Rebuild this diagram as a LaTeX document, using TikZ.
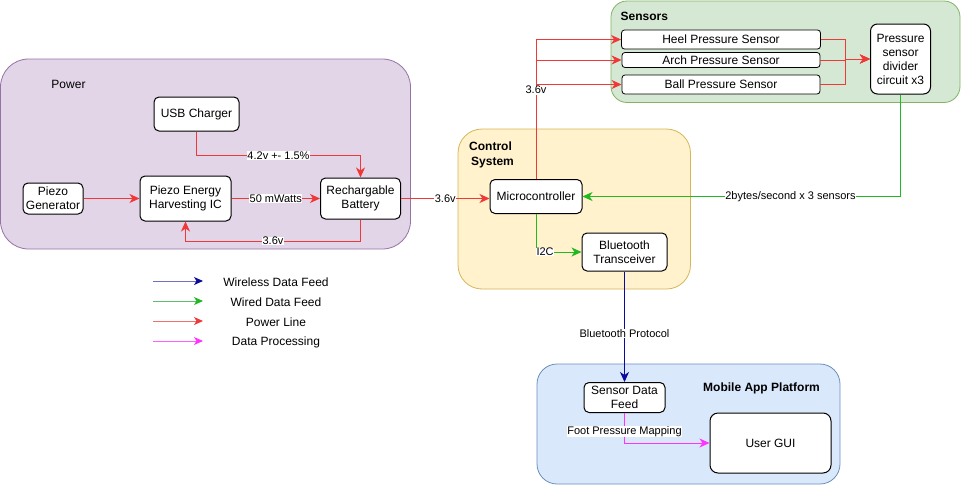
\documentclass[tikz,border=0pt]{standalone}
\usepackage{fontspec}
\setmainfont{Liberation Sans}
\usetikzlibrary{arrows.meta,calc}
\definecolor{pwr}{HTML}{F03838}
\definecolor{wrd}{HTML}{22B822}
\definecolor{wls}{HTML}{0A0A9E}
\definecolor{mag}{HTML}{FF33FF}
\definecolor{pwrL}{HTML}{F07070}
\definecolor{wrdL}{HTML}{60BC70}
\definecolor{wlsL}{HTML}{7070C0}
\definecolor{magL}{HTML}{FF60FF}
\definecolor{powF}{HTML}{E1D5E7}
\definecolor{powD}{HTML}{9673A6}
\definecolor{ctlF}{HTML}{FFF2CC}
\definecolor{ctlD}{HTML}{D6B656}
\definecolor{senF}{HTML}{D5E8D4}
\definecolor{senD}{HTML}{82B366}
\definecolor{mobF}{HTML}{DAE8FC}
\definecolor{mobD}{HTML}{6C8EBF}
\begin{document}
\begin{tikzpicture}[x=1pt,y=-1pt,
  box/.style={draw=black, line width=1pt, rounded corners=5pt, fill=white, align=center, inner sep=0pt, font=\fontsize{12}{14}\selectfont},
  arr/.style={-{Stealth[length=10pt,width=9pt,inset=3pt]}},
  pw/.style={arr, draw=pwr, fill=none, line width=1pt},
  wd/.style={arr, draw=wrd, line width=1pt},
  wl/.style={arr, draw=wls, line width=1pt},
  dp/.style={arr, draw=mag, line width=1pt},
  lbl/.style={fill=white, inner sep=0.5pt, font=\fontsize{11}{12}\selectfont, text=black},
  ttl/.style={font=\bfseries\fontsize{12}{15}\selectfont, inner sep=0pt, align=left},
  leg/.style={font=\fontsize{12}{14}\selectfont, inner sep=0pt}
]
\useasboundingbox (0,0) rectangle (961,485);
% group containers
\draw[fill=powF, draw=powD, line width=0.8pt, rounded corners=28pt] (0.5,59) rectangle (410.5,249);
\draw[fill=ctlF, draw=ctlD, line width=0.8pt, rounded corners=24pt] (458,129) rectangle (690.5,289);
\draw[fill=senF, draw=senD, line width=0.8pt, rounded corners=16pt] (611,1) rectangle (960,102.5);
\draw[fill=mobF, draw=mobD, line width=0.8pt, rounded corners=20pt] (537,364) rectangle (840,484);
% titles
\node[font=\fontsize{12}{14}\selectfont, inner sep=0pt] (tpow) at (68.5,84) {Power};
\node[ttl, anchor=west] (tctl) at (469,155) {Control\\\,System};
\node[ttl, anchor=west] (tsen) at (620.5,16.5) {Sensors};
\node[ttl] (tmob) at (761.5,388) {Mobile App Platform};
% power nodes
\node[box, minimum width=85pt, minimum height=34pt] (usb) at (196.5,114) {USB Charger};
\node[box, minimum width=60pt, minimum height=31pt] (pgen) at (53,198.5) {Piezo\\Generator};
\node[box, minimum width=91pt, minimum height=45pt] (ic) at (185.5,198.5) {Piezo Energy\\Harvesting IC};
\node[box, minimum width=80pt, minimum height=41pt] (bat) at (360.5,198.5) {Rechargable\\Battery};
% control nodes
\node[box, minimum width=92pt, minimum height=34pt] (micro) at (536,196.5) {Microcontroller};
\node[box, minimum width=85pt, minimum height=38pt] (bt) at (624.5,252) {Bluetooth\\Transceiver};
% sensor nodes
\node[box, line width=0.8pt, rounded corners=3pt, minimum width=199pt, minimum height=19pt] (heel) at (721,39.5) {Heel Pressure Sensor};
\node[box, line width=0.8pt, rounded corners=3pt, minimum width=198pt, minimum height=15pt] (arch) at (721,60) {Arch Pressure Sensor};
\node[box, line width=0.8pt, rounded corners=3pt, minimum width=198pt, minimum height=19pt] (ball) at (721,84.5) {Ball Pressure Sensor};
\node[box, rounded corners=7pt, minimum width=60pt, minimum height=70pt] (div) at (900.5,59) {Pressure\\sensor\\divider\\circuit x3};
% mobile nodes
\node[box, minimum width=81pt, minimum height=30pt] (sdf) at (624.5,397.5) {Sensor Data\\Feed};
\node[box, rounded corners=8pt, minimum width=121pt, minimum height=60pt] (gui) at (770.5,443) {User GUI};
% helper coordinates
\coordinate (c1) at (0,155.5);
\coordinate (c2) at (0,241);
\coordinate (jn) at (845,59);
% power edges
\draw[pw] (usb.south) |- node[lbl,pos=0.75]{4.2v +- 1.5\%} (bat.north |- c1) -- (bat.north);
\draw[pw] (pgen.east) -- (ic.west);
\draw[pw] (ic.east) -- node[lbl]{50 mWatts} (bat.west);
\draw[pw] (bat.south) |- node[lbl,pos=0.75]{3.6v} (ic.south |- c2) -- (ic.south);
\draw[pw] (bat.east) -- node[lbl]{3.6v} (bat.east -| micro.west);
% micro to sensors
\draw[pw] (micro.north) |- (heel.west);
\draw[pw] (micro.north) |- (arch.west);
\draw[pw] (micro.north) |- node[lbl,pos=0.47]{3.6v} (ball.west);
% sensors to divider
\draw[pw] (heel.east) -| (jn) -- (div.west);
\draw[pw] (arch.east) -| (jn) -- (div.west);
\draw[pw] (ball.east) -| (jn) -- (div.west);
% data edges
\draw[wd] (div.south) |- node[lbl,pos=0.673]{2bytes/second x 3 sensors} (micro.east);
\draw[wd] (micro.south) |- node[lbl,pos=0.6]{I2C} (bt.west);
\draw[wl] (bt.south) -- node[lbl,pos=0.56]{Bluetooth Protocol} (sdf.north);
\draw[dp] (sdf.south) |- node[lbl,pos=0.31]{Foot Pressure Mapping} (gui.west);
% legend
\coordinate (l1a) at (153,281); \coordinate (l1b) at (203,281);
\coordinate (l2a) at (153,301); \coordinate (l2b) at (203,301);
\coordinate (l3a) at (153,321); \coordinate (l3b) at (203,321);
\coordinate (l4a) at (153,341); \coordinate (l4b) at (203,341);
\draw[draw=wlsL, line width=1pt, -{Stealth[length=9pt,width=8pt,inset=2.5pt,color=wls]}] (l1a) -- (l1b);
\draw[draw=wrdL, line width=1pt, -{Stealth[length=9pt,width=8pt,inset=2.5pt,color=wrd]}] (l2a) -- (l2b);
\draw[draw=pwrL, line width=1pt, -{Stealth[length=9pt,width=8pt,inset=2.5pt,color=pwr]}] (l3a) -- (l3b);
\draw[draw=magL, line width=1pt, -{Stealth[length=9pt,width=8pt,inset=2.5pt,color=mag]}] (l4a) -- (l4b);
\node[leg] (g1) at (276,282) {Wireless Data Feed};
\node[leg] (g2) at (276,302) {Wired Data Feed};
\node[leg] (g3) at (276,322) {Power Line};
\node[leg] (g4) at (276,342) {Data Processing};
\end{tikzpicture}
\end{document}
